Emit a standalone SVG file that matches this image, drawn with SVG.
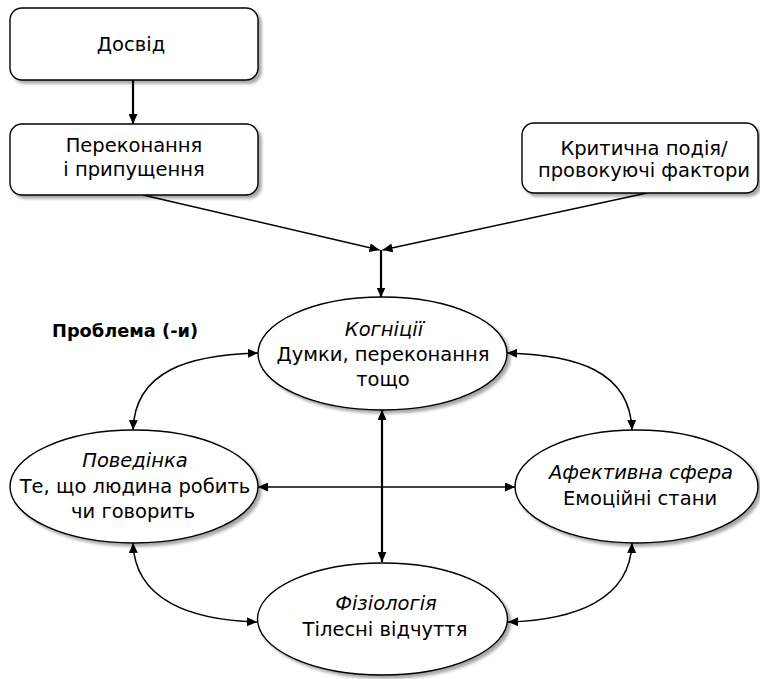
<svg xmlns="http://www.w3.org/2000/svg" width="760" height="679" viewBox="0 0 760 679">
<defs>
<filter id="sh" x="-10%" y="-10%" width="125%" height="130%">
<feDropShadow dx="3" dy="3" stdDeviation="1.5" flood-color="#000" flood-opacity="0.35"/>
</filter>
<marker id="ah" viewBox="0 0 10 9" refX="10" refY="4.5" markerWidth="10" markerHeight="9" markerUnits="userSpaceOnUse" orient="auto-start-reverse">
<path d="M0,0 L10,4.5 L0,9 z" fill="#000"/>
</marker>
</defs>
<style>
.shape{fill:#fff;stroke:#000;stroke-width:1.4;filter:url(#sh)}
.t{font-family:"DejaVu Sans",sans-serif;font-size:19.5px;fill:#000;text-anchor:middle}
.i{font-style:italic}
.c{fill:none;stroke:#000;stroke-width:1.5}
.c2{fill:none;stroke:#000;stroke-width:2.2}
.lbl{font-family:"DejaVu Sans",sans-serif;font-size:17.8px;font-weight:bold;fill:#000}
</style>
<rect width="760" height="679" fill="#fff"/>
<g id="connectors">
<line class="c2" x1="133" y1="80" x2="133" y2="124" marker-end="url(#ah)"/>
<line class="c" x1="143" y1="195" x2="379.5" y2="250" marker-end="url(#ah)"/>
<line class="c" x1="647" y1="193" x2="382.5" y2="250" marker-end="url(#ah)"/>
<line class="c2" x1="381" y1="250" x2="381" y2="297.5" marker-end="url(#ah)"/>
<path class="c" d="M258,353 C190,355 135,370 133,430" marker-start="url(#ah)" marker-end="url(#ah)"/>
<path class="c" d="M507,353 C575,355 630,370 632,430" marker-start="url(#ah)" marker-end="url(#ah)"/>
<path class="c" d="M133,543 C135,600 190,620 257,622" marker-start="url(#ah)" marker-end="url(#ah)"/>
<path class="c" d="M632,543 C630,600 575,620 508,622" marker-start="url(#ah)" marker-end="url(#ah)"/>
<line class="c" x1="258" y1="487" x2="515" y2="487" marker-start="url(#ah)" marker-end="url(#ah)"/>
<line class="c2" x1="382" y1="410" x2="382" y2="562" marker-start="url(#ah)" marker-end="url(#ah)"/>
</g>
<g id="experience">
<rect class="shape" x="10" y="8" width="248" height="72" rx="12"/>
<text class="t" x="131" y="51">Досвід</text>
</g>
<g id="beliefs">
<rect class="shape" x="10" y="124" width="248" height="71" rx="12"/>
<text class="t" x="134" y="152">Переконання</text>
<text class="t" x="134" y="176">і припущення</text>
</g>
<g id="critical-event">
<rect class="shape" x="522" y="123" width="236" height="70" rx="12"/>
<text class="t" x="644" y="155">Критична подія/</text>
<text class="t" x="644" y="177">провокуючі фактори</text>
</g>
<text id="problem-label" class="lbl" x="52" y="337">Проблема (-и)</text>
<g id="cognitions">
<ellipse class="shape" cx="382.5" cy="353.5" rx="124.5" ry="56.5"/>
<text class="t i" x="384" y="336">Когніції</text>
<text class="t" x="383" y="361">Думки, переконання</text>
<text class="t" x="383" y="386">тощо</text>
</g>
<g id="behaviour">
<ellipse class="shape" cx="134" cy="486.5" rx="124" ry="56.5"/>
<text class="t i" x="135" y="467">Поведінка</text>
<text class="t" x="135" y="493">Те, що людина робить</text>
<text class="t" x="133" y="518">чи говорить</text>
</g>
<g id="affect">
<ellipse class="shape" cx="636.5" cy="486.5" rx="121.5" ry="56.5"/>
<text class="t i" x="641" y="479">Афективна сфера</text>
<text class="t" x="640" y="505">Емоційні стани</text>
</g>
<g id="physiology">
<ellipse class="shape" cx="382.5" cy="619" rx="125" ry="56"/>
<text class="t i" x="386" y="610">Фізіологія</text>
<text class="t" x="385" y="636">Тілесні відчуття</text>
</g>
</svg>
